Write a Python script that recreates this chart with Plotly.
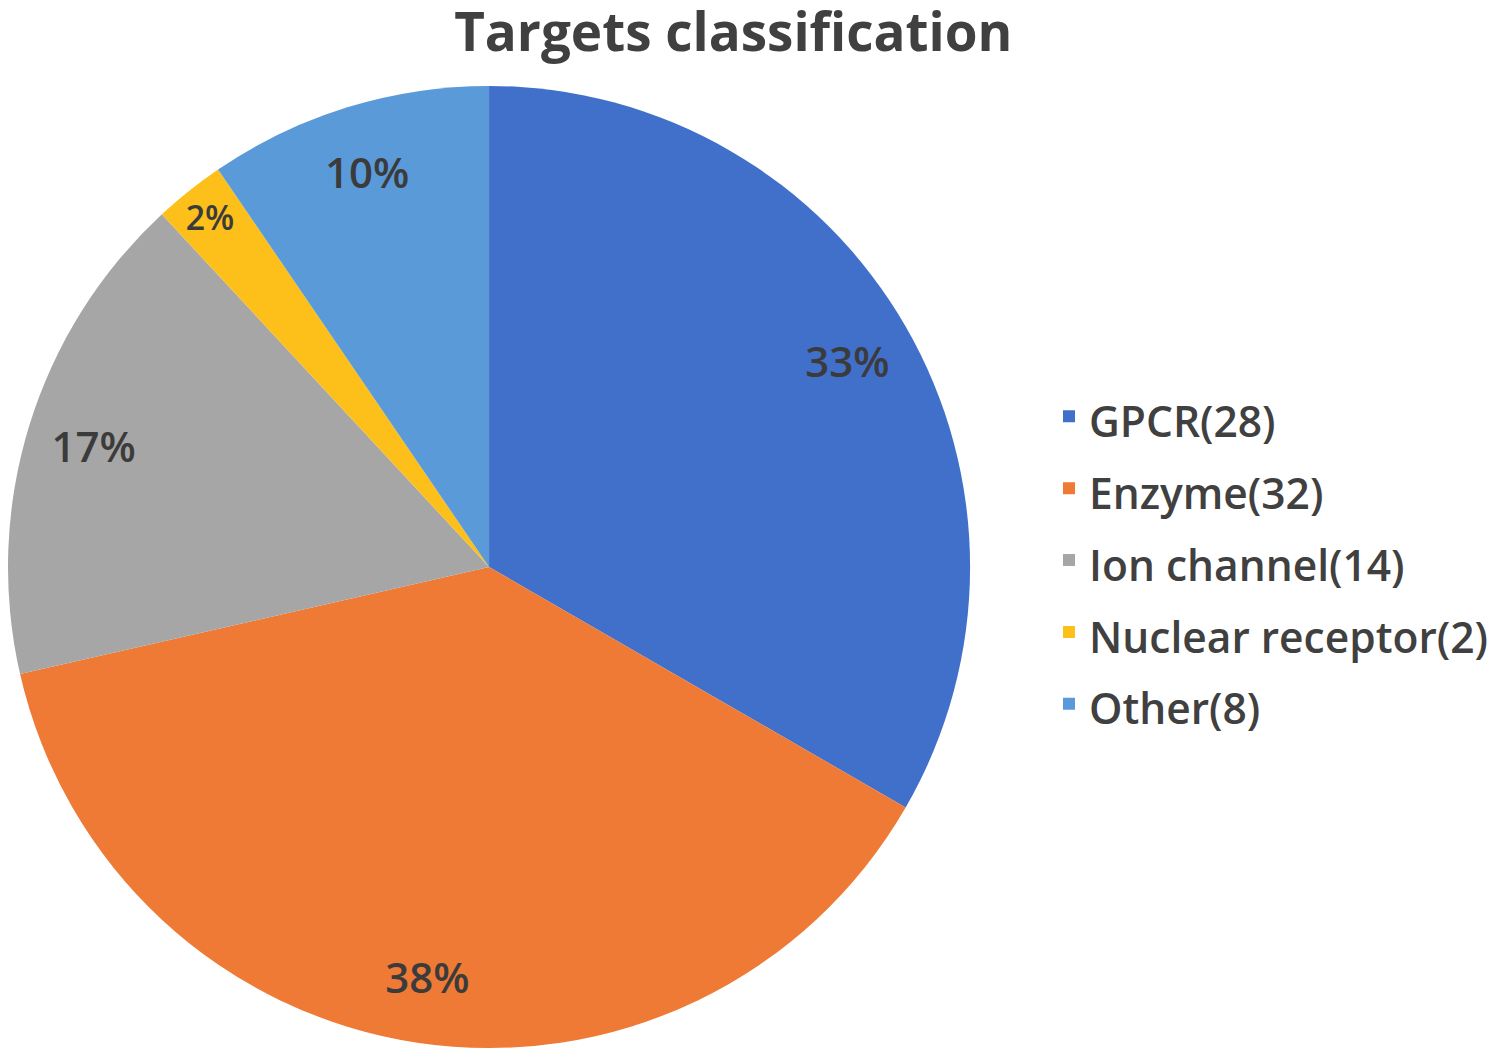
import plotly.graph_objects as go

categories = ["GPCR", "Enzyme", "Ion channel", "Nuclear receptor", "Other"]
counts = [28, 32, 14, 2, 8]
colors = ["#4170CA", "#EE7A35", "#A6A6A6", "#FDBF1A", "#5A9AD8"]
title_text = "Targets classification"

legend_labels = [f"<span style='font-size:42.5px'>{c}({n})</span>" for c, n in zip(categories, counts)]

dom = dict(x=[0.0, 0.6414], y=[0.0167, 0.9266])

# filled pie (no text)
fig = go.Figure(go.Pie(
    labels=legend_labels,
    values=counts,
    sort=False,
    direction="clockwise",
    rotation=0,
    marker=dict(colors=colors, line=dict(width=0)),
    textinfo="none",
    domain=dom,
    hoverinfo="label+percent",
))

# transparent ring carrying the percentage labels near the rim
fig.add_trace(go.Pie(
    labels=legend_labels,
    values=counts,
    sort=False,
    direction="clockwise",
    rotation=0,
    hole=0.72,
    marker=dict(colors=["rgba(0,0,0,0)"] * len(counts), line=dict(width=0)),
    texttemplate="%{percent:.0%}",
    textposition="inside",
    insidetextorientation="horizontal",
    textfont=dict(family="Open Sans", size=42, color="#3b3b3b", weight=600),
    domain=dom,
    showlegend=False,
    hoverinfo="skip",
))

fig.update_layout(
    width=1500, height=1058,
    margin=dict(l=0, r=0, t=0, b=0),
    paper_bgcolor="white",
    title=dict(text=title_text, x=0.4835, xanchor="center", y=0.977, yanchor="middle",
               font=dict(family="Open Sans", size=53, color="#404040", weight=700)),
    legend=dict(x=0.694, xanchor="left", y=0.478, yanchor="middle",
                font=dict(family="Open Sans", size=53, color="#404040", weight=600),
                itemwidth=30),
    showlegend=True,
)

fig.write_html("out.html")
